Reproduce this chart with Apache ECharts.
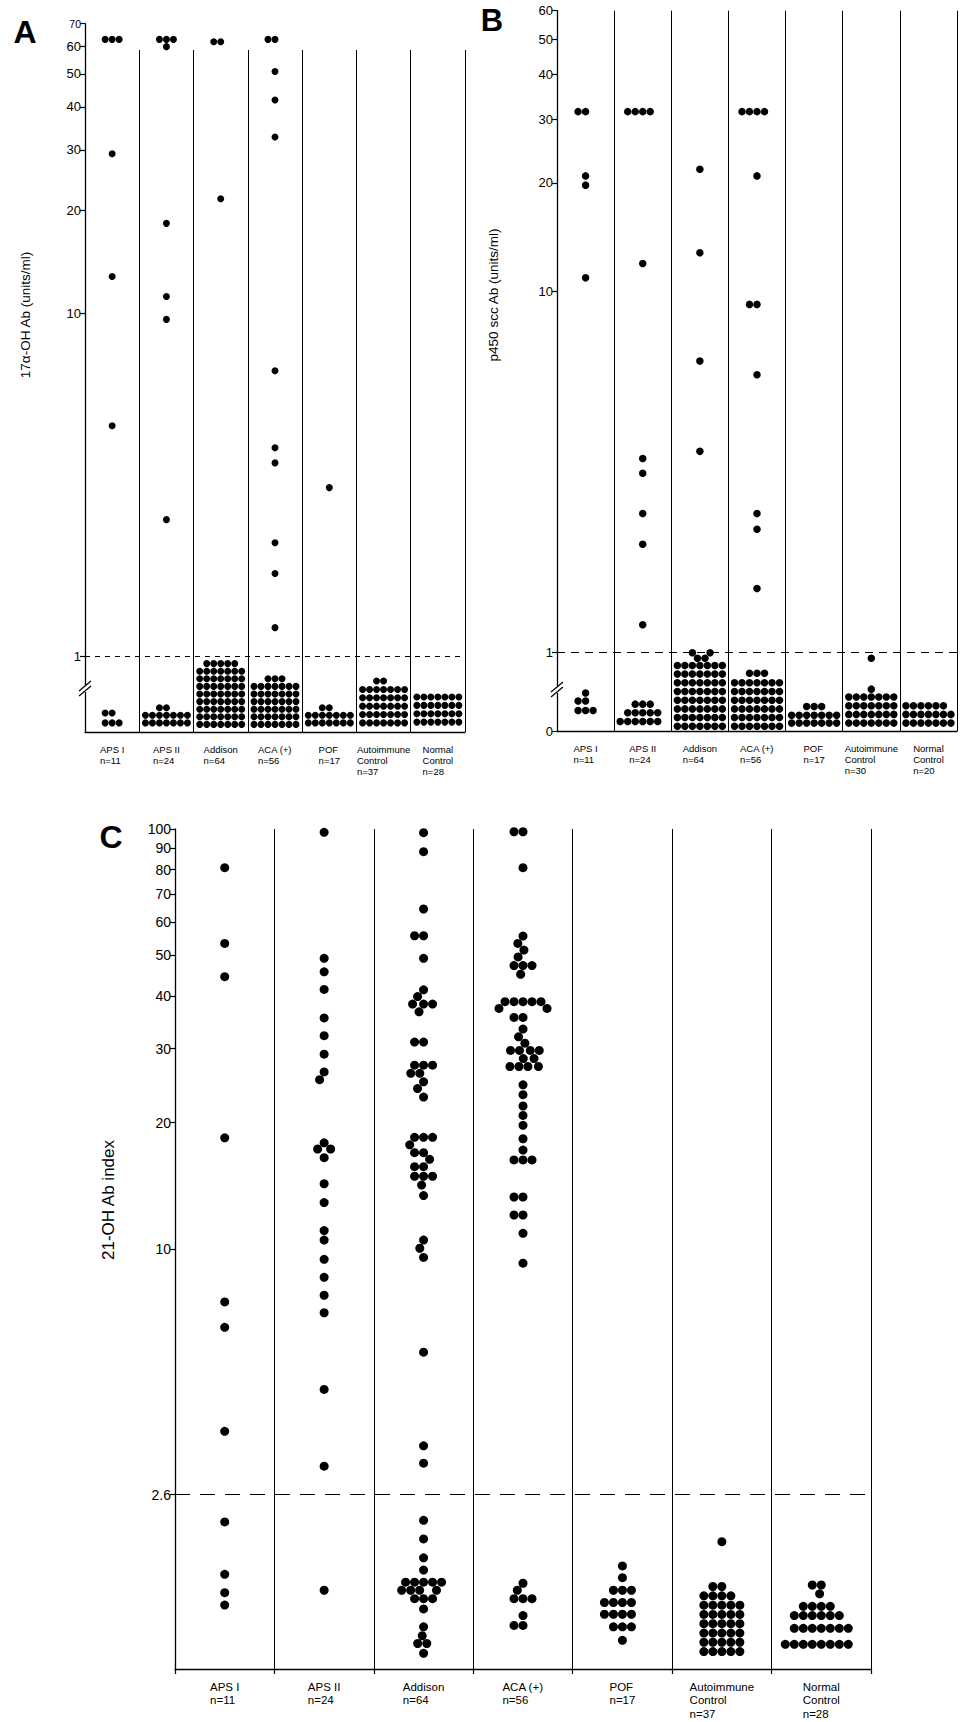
<!DOCTYPE html>
<html>
<head>
<meta charset="utf-8">
<script src="https://cdn.jsdelivr.net/npm/echarts@6/dist/echarts.min.js"></script>
<style>
  html, body { margin: 0; padding: 0; background: #fff; }
  #chart { width: 968px; height: 1722px; }
</style>
</head>
<body>
<div id="chart"></div>
<script>
// group names under each panel
const groupsA = ['APS I\nn=11', 'APS II\nn=24', 'Addison\nn=64', 'ACA (+)\nn=56', 'POF\nn=17', 'Autoimmune\nControl\nn=37', 'Normal\nControl\nn=28'];
const groupsB = ['APS I\nn=11', 'APS II\nn=24', 'Addison\nn=64', 'ACA (+)\nn=56', 'POF\nn=17', 'Autoimmune\nControl\nn=30', 'Normal\nControl\nn=20'];
const groupsC = ['APS I\nn=11', 'APS II\nn=24', 'Addison\nn=64', 'ACA (+)\nn=56', 'POF\nn=17', 'Autoimmune\nControl\nn=37', 'Normal\nControl\nn=28'];

// tick labels
const ticksA = [1, 10, 20, 30, 40, 50, 60, 70];
const ticksB = [1, 10, 20, 30, 40, 50, 60];
const ticksC = [2.6, 10, 20, 30, 40, 50, 60, 70, 80, 90, 100];

// A: 17a-OH Ab, dots at or above 1 unit/ml (one list per group)
const highA = [
  [63, 63, 63, 29.2, 12.8, 4.7],
  [63, 63, 63, 60, 18.3, 11.2, 9.6, 2.5],
  [62, 62, 21.6],
  [63, 63, 50.8, 41.9, 32.7, 6.8, 4.05, 3.66, 2.14, 1.74, 1.21],
  [3.1],
  [],
  []
];
// A: dots below 1, as [level, number of dots at that level]
const lowA = [
  [[0.12, 3], [0.25, 2]],
  [[0.12, 7], [0.22, 7], [0.32, 2]],
  [[0.1, 7], [0.2, 7], [0.3, 7], [0.4, 7], [0.5, 7], [0.6, 7], [0.7, 7], [0.8, 7], [0.9, 5]],
  [[0.1, 7], [0.2, 7], [0.3, 7], [0.4, 7], [0.5, 7], [0.6, 7], [0.7, 3]],
  [[0.12, 7], [0.22, 7], [0.32, 2]],
  [[0.12, 7], [0.23, 7], [0.34, 7], [0.45, 7], [0.56, 7], [0.67, 2]],
  [[0.13, 7], [0.24, 7], [0.35, 7], [0.46, 7]]
];

// B: p450 scc Ab
const highB = [
  [31.5, 31.5, 20.9, 19.7, 10.9],
  [31.5, 31.5, 31.5, 31.5, 11.95, 3.44, 3.13, 2.42, 1.99, 1.19],
  [21.8, 12.8, 6.41, 3.6],
  [31.5, 31.5, 31.5, 31.5, 20.9, 9.2, 9.2, 5.87, 2.42, 2.19, 1.5],
  [],
  [],
  []
];
const lowB = [
  [[0.26, 3], [0.38, 2], [0.48, 1]],
  [[0.12, 6], [0.23, 5], [0.34, 3]],
  [[0.06, 7], [0.17, 7], [0.28, 7], [0.39, 7], [0.5, 7], [0.61, 7], [0.72, 7], [0.83, 7], [0.92, 2], [0.99, 2]],
  [[0.06, 7], [0.17, 7], [0.28, 7], [0.39, 7], [0.5, 7], [0.61, 7], [0.73, 3]],
  [[0.1, 7], [0.2, 7], [0.31, 3]],
  [[0.1, 7], [0.21, 7], [0.32, 7], [0.43, 7], [0.53, 1], [0.92, 1]],
  [[0.1, 7], [0.21, 7], [0.32, 6]]
];

// C: 21-OH Ab index
const valuesC = [
  [80.9, 53.4, 44.5, 18.4, 7.48, 6.51, 3.68, 2.24, 1.68, 1.52, 1.42],
  [98.2, 49.2, 45.7, 41.5, 35.5, 32.2, 29.1, 26.4, 25.3, 17.9, 17.3, 17.3, 16.5, 14.3, 12.9, 11.06, 10.5,
   9.45, 8.56, 7.76, 7.05, 4.63, 3.04, 1.54],
  [98, 88.3, 64.5, 55.7, 55.7, 49.2, 41.4, 39.9, 38.3, 38.3, 38.3, 36.7, 31.1, 31.1,
   27.4, 27.4, 27.4, 26.2, 26.2, 25, 24.1, 23,
   18.45, 18.45, 18.45, 17.7, 16.96, 16.96, 16.35, 15.7, 15.7, 14.9, 14.9, 14.9, 14.2, 13.4,
   10.5, 10.04, 9.55, 5.68, 3.4, 3.09, 2.26, 2.04, 1.84, 1.72,
   1.61, 1.61, 1.61, 1.61, 1.61, 1.54, 1.54, 1.54, 1.54, 1.47, 1.47, 1.47, 1.39, 1.26, 1.2, 1.15, 1.15, 1.09],
  [98.5, 98.5, 80.9, 55.6, 53.4, 51.5, 49.6, 47.3, 47.3, 47.3, 45.1, 38.8, 38.8, 38.8, 38.8, 38.8,
   37.4, 37.4, 35.6, 35.6, 33.4, 32, 30.9, 29.7, 29.7, 29.7, 29.7, 28.4, 28.4, 27.2, 27.2, 27.2, 27.2,
   24.6, 23.3, 21.9, 20.8, 19.7, 18.3, 17.2, 16.3, 16.3, 16.3, 13.3, 13.3, 12.05, 12.05, 10.9, 9.25,
   1.6, 1.54, 1.47, 1.47, 1.47, 1.34, 1.27, 1.27],
  [1.76, 1.65, 1.54, 1.54, 1.54, 1.44, 1.44, 1.44, 1.44, 1.35, 1.35, 1.35, 1.35, 1.26, 1.26, 1.26, 1.17],
  [2.01, 1.572, 1.572, 1.494, 1.494, 1.494, 1.494, 1.419, 1.419, 1.419, 1.419, 1.419,
   1.349, 1.349, 1.349, 1.349, 1.349, 1.282, 1.282, 1.282, 1.282, 1.282,
   1.218, 1.218, 1.218, 1.218, 1.218, 1.158, 1.158, 1.158, 1.158, 1.158, 1.10, 1.10, 1.10, 1.10, 1.10],
  [1.585, 1.585, 1.51, 1.41, 1.41, 1.41, 1.41, 1.34, 1.34, 1.34, 1.34, 1.34, 1.34,
   1.25, 1.25, 1.25, 1.25, 1.25, 1.25, 1.25, 1.145, 1.145, 1.145, 1.145, 1.145, 1.145, 1.145, 1.145]
];

const FONT = '"Liberation Sans", Arial, sans-serif';

function points(lists) {
  return lists.flatMap((vals, i) => vals.map(v => [i, v]));
}
function stackPoints(rows) {
  const out = [];
  rows.forEach((levels, i) => levels.forEach(([v, n]) => {
    for (let k = 0; k < n; k++) out.push([i, v]);
  }));
  return out;
}
const blockLabel = s => s.split('\n').map(t => '{l|' + t + '}').join('\n');
const tickText = v => String(+(+v).toPrecision(3));

function dataX(grid, cats, jitter) {
  return { gridIndex: grid, type: 'category', data: cats, show: false,
    jitter: jitter, jitterOverlap: false, jitterMargin: 0 };
}
function frameX(grid, cats, fontSize, lineHeight, margin, ticks) {
  return {
    gridIndex: grid, type: 'category', data: cats, position: 'bottom',
    axisLine: { show: true, lineStyle: { color: '#000', width: 1.3 } },
    axisTick: { show: ticks, length: 5, lineStyle: { color: '#000', width: 1.2 } },
    splitLine: { show: true, interval: 0, lineStyle: { color: '#000', width: 1 } },
    axisLabel: { interval: 0, margin: margin, formatter: blockLabel,
      rich: { l: { align: 'left', fontSize: fontSize, lineHeight: lineHeight, fontFamily: FONT, color: '#000' } } }
  };
}
function logY(grid, max, ticks, fontSize) {
  return {
    gridIndex: grid, type: 'log', logBase: 10, min: 1, max: max,
    axisLine: { show: true, lineStyle: { color: '#000', width: 1.3 } },
    axisTick: { show: true, length: 5, customValues: ticks, lineStyle: { color: '#000', width: 1.2 } },
    axisLabel: { customValues: ticks, color: '#000', fontFamily: FONT, fontSize: fontSize, margin: 4,
      formatter: v => (Math.round(v) === 70 && max === 70) ? '{s|70}' : tickText(v),
      rich: { s: { fontSize: 10.5, fontFamily: FONT, color: '#000' } } },
    splitLine: { show: false }
  };
}
function linY(grid, labels) {
  return {
    gridIndex: grid, type: 'value', min: 0, max: 1,
    axisLine: { show: true, lineStyle: { color: '#000', width: 1.3 } },
    axisTick: { show: labels.length > 0, length: 5, customValues: labels, lineStyle: { color: '#000' } },
    axisLabel: { show: labels.length > 0, customValues: labels, color: '#000', fontFamily: FONT, fontSize: 13, margin: 4 },
    splitLine: { show: false }
  };
}
function dots(axisIndex, data, size, dash, level) {
  const s = {
    type: 'scatter', xAxisIndex: axisIndex, yAxisIndex: axisIndex, data: data,
    symbol: 'circle', symbolSize: size, itemStyle: { color: '#000', opacity: 1 }, silent: true
  };
  if (dash) {
    s.markLine = { silent: true, symbol: 'none', label: { show: false },
      lineStyle: { color: '#000', width: 1.2, type: dash, opacity: 1 }, data: [{ yAxis: level }] };
  }
  return s;
}

const grids = [
  { left: 85, top: 23.7, width: 380, height: 632.3 },
  { left: 85, top: 656, width: 380, height: 76 },
  { left: 85, top: 50, width: 380, height: 682 },
  { left: 557, top: 10.7, width: 400, height: 641.3 },
  { left: 557, top: 652, width: 400, height: 79 },
  { left: 557, top: 10.7, width: 400, height: 720.3 },
  { left: 175, top: 829, width: 696, height: 840 }
].map(g => Object.assign({ containLabel: false, outerBoundsMode: 'none' }, g));

const cx = frameX(6, groupsC, 11.5, 13.5, 11, true);
Object.assign(cx, { jitter: 99, jitterOverlap: false, jitterMargin: 0 });

const label = (text, font) => ({ text: text, font: font, fill: '#000', align: 'center', verticalAlign: 'middle' });
const slash = (x1, y1, x2, y2) => ({ type: 'line', z: 101, shape: { x1, y1, x2, y2 }, style: { stroke: '#000', lineWidth: 1.2 } });

const option = {
  animation: false,
  backgroundColor: '#fff',
  grid: grids,
  xAxis: [
    dataX(0, groupsA, 54), dataX(1, groupsA, 54), frameX(2, groupsA, 9.5, 11, 12, false),
    dataX(3, groupsB, 57), dataX(4, groupsB, 57), frameX(5, groupsB, 9.5, 11, 12, false),
    cx
  ],
  yAxis: [
    logY(0, 70, ticksA, 13), linY(1, []), { gridIndex: 2, type: 'value', show: false },
    logY(3, 60, ticksB, 13), linY(4, [0]), { gridIndex: 5, type: 'value', show: false },
    logY(6, 100, ticksC, 14)
  ],
  series: [
    dots(0, points(highA), 7, [5, 5], 1),
    dots(1, stackPoints(lowA), 7),
    dots(3, points(highB), 7.5, [8, 6], 1),
    dots(4, stackPoints(lowB), 7.5),
    dots(6, points(valuesC), 9, [15, 10], 2.6)
  ],
  graphic: [
    { type: 'text', x: 25, y: 32, z: 100, style: label('A', 'bold 32px ' + FONT) },
    { type: 'text', x: 492, y: 20, z: 100, style: label('B', 'bold 31px ' + FONT) },
    { type: 'text', x: 111, y: 837, z: 100, style: label('C', 'bold 32px ' + FONT) },
    { type: 'text', x: 25, y: 315, rotation: Math.PI / 2, z: 100, style: label('17α-OH Ab (units/ml)', '13.5px ' + FONT) },
    { type: 'text', x: 493, y: 295, rotation: Math.PI / 2, z: 100, style: label('p450 scc Ab (units/ml)', '13.5px ' + FONT) },
    { type: 'text', x: 108, y: 1200, rotation: Math.PI / 2, z: 100, style: label('21-OH Ab index', '17px ' + FONT) },
    // axis breaks
    { type: 'rect', z: 100, shape: { x: 83, y: 685, width: 4, height: 7 }, style: { fill: '#fff' } },
    slash(79, 691, 91, 681), slash(79, 696, 91, 686),
    { type: 'rect', z: 100, shape: { x: 555, y: 686, width: 4, height: 7 }, style: { fill: '#fff' } },
    slash(551, 692, 563, 682), slash(551, 697, 563, 687)
  ]
};

const chart = echarts.init(document.getElementById('chart'), null, { renderer: 'svg' });
chart.setOption(option);
</script>
</body>
</html>
